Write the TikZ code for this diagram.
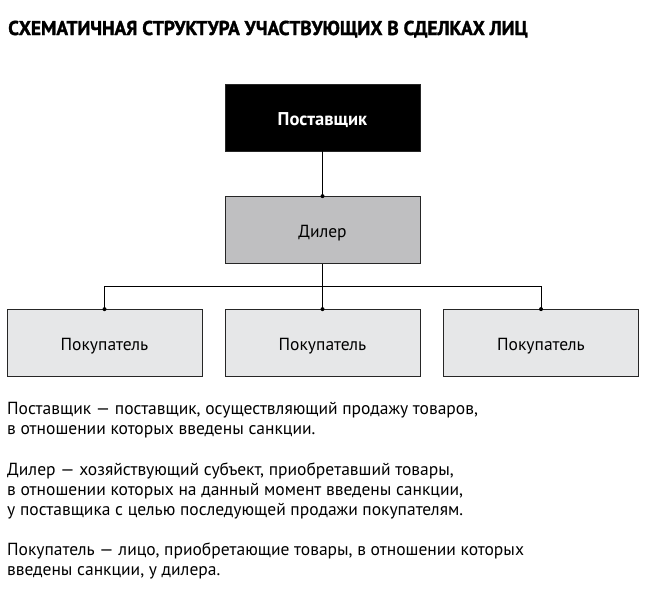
\documentclass[tikz,border=0pt]{standalone}
\usepackage{fontspec}
\setmainfont{PT Sans}
\begin{document}
\begin{tikzpicture}[x=1pt,y=-1pt,
  box/.style={draw=black!85, line width=0.8pt, minimum width=195pt, minimum height=67pt, inner sep=0pt, text height=15pt, text depth=0pt, font=\fontsize{17.5}{20}\selectfont},
  conn/.style={line width=0.9pt, black},
  dot/.style={circle, fill=black, inner sep=0pt, minimum size=4pt},
  desc/.style={anchor=base west, inner sep=0pt, font=\fontsize{17.5}{20}\selectfont}]
\useasboundingbox (0,0) rectangle (650,592);
\node[anchor=base west, inner sep=0pt] (title) at (8,35) {\scalebox{0.963}[1]{\fontsize{20}{24}\selectfont\bfseries\addfontfeatures{FakeBold=1.5}СХЕМАТИЧНАЯ СТРУКТУРА УЧАСТВУЮЩИХ В СДЕЛКАХ ЛИЦ}};
\node[box, fill=black, text=white, font=\fontsize{18.5}{20}\selectfont\bfseries] (sup) at (322.5,117.5) {Поставщик};
\node[box, fill={rgb,255:red,191;green,191;blue,193}] (dil) at (322.5,230) {Дилер};
\node[box, fill={rgb,255:red,230;green,231;blue,232}] (b1) at (104.5,343) {Покупатель};
\node[box, fill={rgb,255:red,230;green,231;blue,232}] (b2) at (322.5,343) {Покупатель};
\node[box, fill={rgb,255:red,230;green,231;blue,232}] (b3) at (541,343) {Покупатель};
\coordinate (j) at (322.5,286);
\draw[conn] (sup.south) -- (dil.north);
\node[dot] at (dil.north) {};
\draw[conn] (dil.south) -- (b2.north);
\draw[conn] (b1.north) -- (b1.north |- j) -- (b3.north |- j) -- (b3.north);
\node[dot] at (b1.north) {};
\node[dot] at (b2.north) {};
\node[dot] at (b3.north) {};
\node[desc] (t1) at (7,414) {Поставщик — поставщик, осуществляющий продажу товаров,};
\node[desc] (t2) at (7,434) {в отношении которых введены санкции.};
\node[desc] (t3) at (7,475) {Дилер — хозяйствующий субъект, приобретавший товары,};
\node[desc] (t4) at (7,495) {в отношении которых на данный момент введены санкции,};
\node[desc] (t5) at (7,515) {у поставщика с целью последующей продажи покупателям.};
\node[desc] (t6) at (7,555) {Покупатель — лицо, приобретающие товары, в отношении которых};
\node[desc] (t7) at (7,575) {введены санкции, у дилера.};
\end{tikzpicture}
\end{document}
